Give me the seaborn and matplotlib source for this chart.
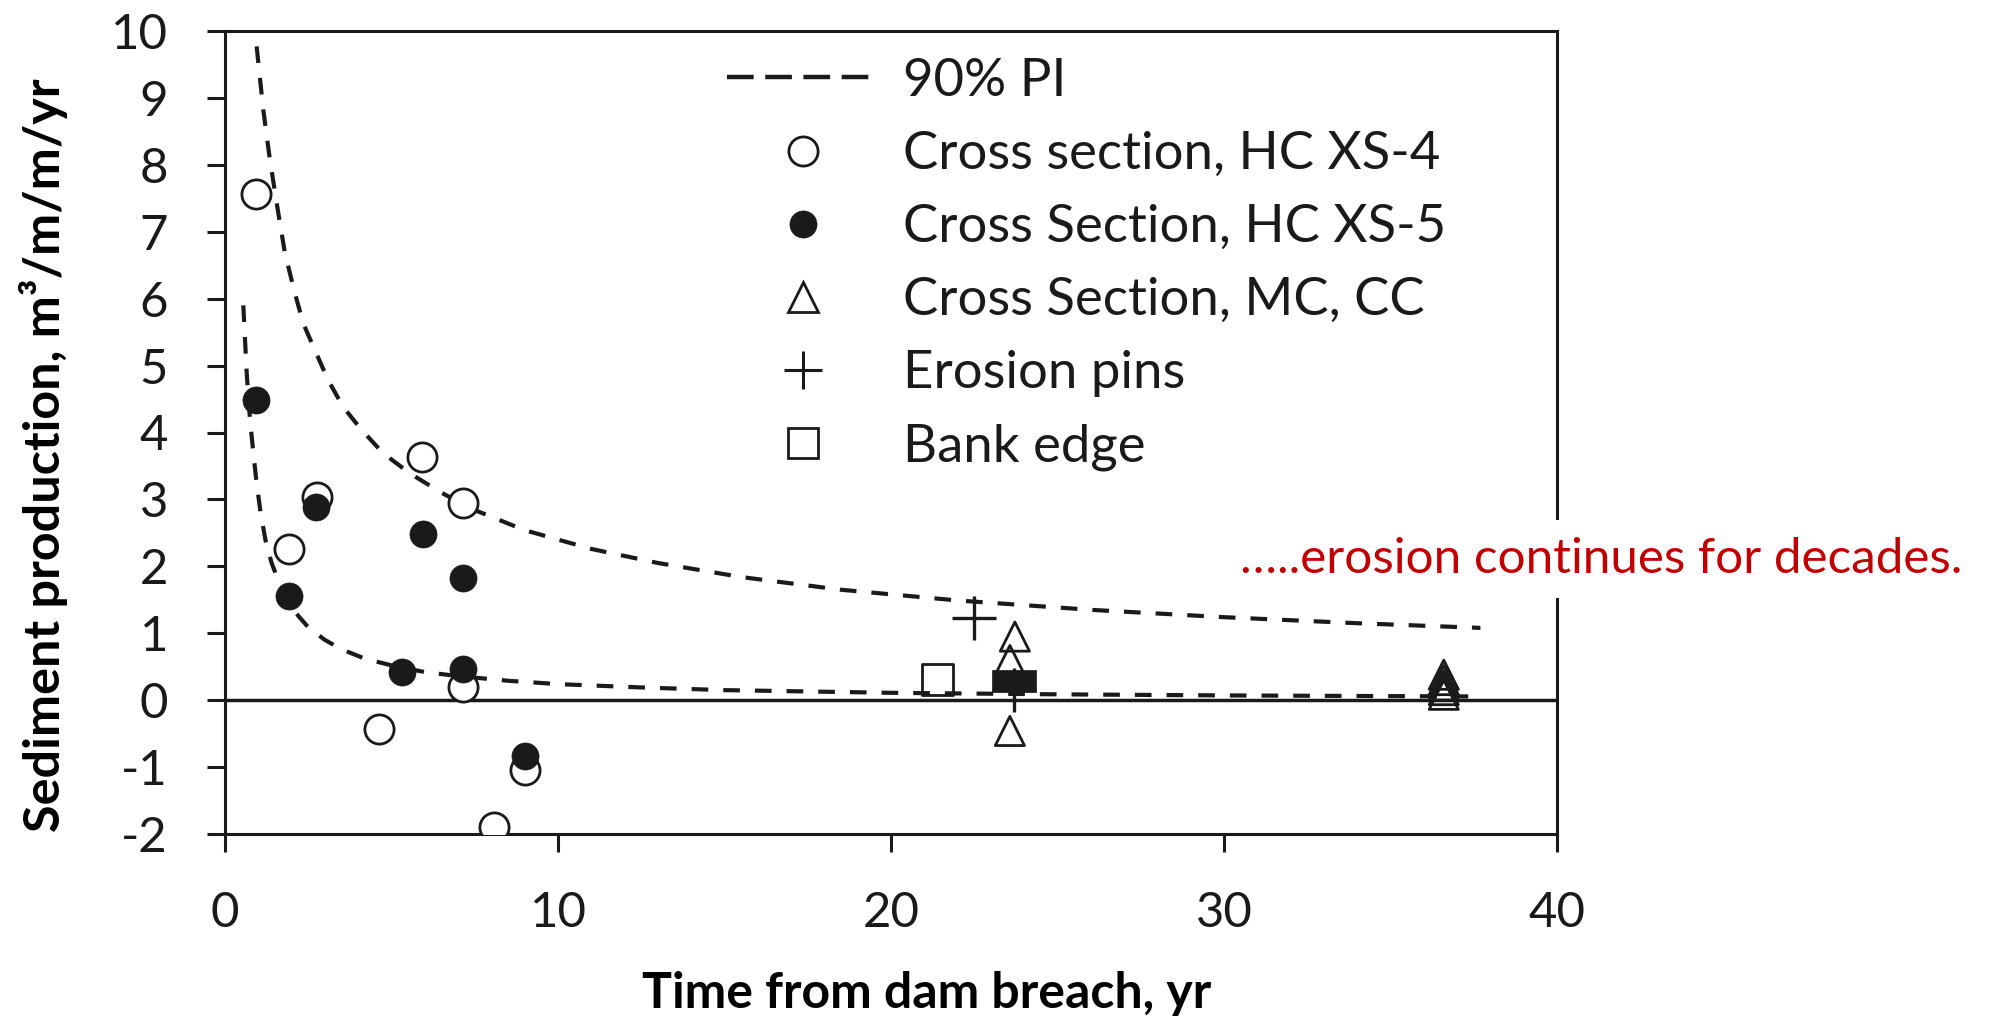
import matplotlib
matplotlib.use("Agg")
import matplotlib.pyplot as plt
from matplotlib.lines import Line2D
import seaborn as sns

# ---------------- data ----------------
pi_upper_x = [0.95, 1.15, 1.35, 1.6, 1.8, 2.1, 2.35, 2.7, 3.1, 3.55, 4.1, 4.75, 5.55,
              6.5, 7.5, 9.0, 11.0, 13.0, 15.5, 18.5, 22.0, 26.0, 30.0, 34.0, 37.7]
pi_upper_y = [9.77, 8.82, 8.07, 7.28, 6.68, 6.08, 5.63, 5.23, 4.78, 4.38, 4.04, 3.69, 3.39,
              3.10, 2.84, 2.54, 2.26, 2.05, 1.84, 1.65, 1.49, 1.35, 1.24, 1.15, 1.08]
pi_lower_x = [0.55, 0.65, 0.75, 0.85, 0.95, 1.07, 1.22, 1.4, 1.6, 1.9, 2.2, 2.5, 3.0,
              3.5, 4.2, 5.0, 6.0, 7.0, 8.5, 10.0, 12.5, 15.0, 20.0, 25.0, 30.0, 37.7]
pi_lower_y = [5.9, 4.9, 4.2, 3.7, 3.24, 2.8, 2.38, 2.05, 1.79, 1.48, 1.26, 1.09, 0.90,
              0.76, 0.62, 0.52, 0.42, 0.36, 0.29, 0.24, 0.19, 0.15, 0.11, 0.087, 0.071, 0.055]

hc4_x = [0.92, 1.92, 2.75, 5.92, 7.16, 7.16, 4.62, 9.01, 8.09]
hc4_y = [7.56, 2.26, 3.04, 3.64, 2.95, 0.20, -0.43, -1.04, -1.89]

hc5_x = [0.92, 2.73, 5.94, 1.93, 7.14, 5.31, 7.14, 9.01]
hc5_y = [4.49, 2.89, 2.49, 1.56, 1.82, 0.42, 0.47, -0.83]

mccc_x = [23.72, 23.57, 23.57, 36.6, 36.6, 36.6, 36.6, 36.6]
mccc_y = [0.95, 0.60, -0.46, 0.38, 0.30, 0.22, 0.15, 0.08]

pins_x = [22.5, 23.7]
pins_y = [1.23, 0.15]

bank_x = [21.4]
bank_y = [0.31]
bank_filled_x = [23.7]
bank_filled_y = [0.29]

x_ticks = [0, 10, 20, 30, 40]
y_ticks = [-2, -1, 0, 1, 2, 3, 4, 5, 6, 7, 8, 9, 10]

legend_labels = ["90% PI", "Cross section, HC XS-4", "Cross Section, HC XS-5",
                 "Cross Section, MC, CC", "Erosion pins", "Bank edge"]
x_label = "Time from dam breach, yr"
y_label = "Sediment production, m\u00b3/m/m/yr"
annotation = "\u2026..erosion continues for decades."

# ---------------- style ----------------
sns.set_style("ticks")
plt.rcParams["font.family"] = ["Lato", "DejaVu Sans"]
plt.rcParams["axes.unicode_minus"] = False

INK = "#1a1a1a"
W, H, DPI = 19.9, 10.18, 100
fig = plt.figure(figsize=(W, H), dpi=DPI)
renderer = fig.canvas.get_renderer()


def size_for(s, target_px, weight="normal"):
    t = fig.text(0, 0, s, fontsize=40, fontweight=weight)
    w = t.get_window_extent(renderer).width
    h = t.get_window_extent(renderer).height
    t.remove()
    f = 40 * target_px / w
    return f, h * f / 40


tick_fs, _ = size_for("10", 57)
xlab_fs, _ = size_for(x_label, 571, "bold")
ylab_fs, _ = size_for(y_label, 753, "bold")
leg_fs, leg_h = size_for(legend_labels[2], 542)
ann_fs, _ = size_for(annotation, 721)

# axes box: x 225..1557 px, y 31..834 px
L, R, T, B = 225, 1557, 31, 834
ax = fig.add_axes([L / 1990, 1 - B / 1018, (R - L) / 1990, (B - T) / 1018])

ax.axhline(0, color=INK, lw=2.5, zorder=1)

dash = (0, (4.0, 3.6))
sns.lineplot(x=pi_upper_x, y=pi_upper_y, ax=ax, color=INK, lw=3.0,
             linestyle=dash, estimator=None, sort=False, zorder=2)
sns.lineplot(x=pi_lower_x, y=pi_lower_y, ax=ax, color=INK, lw=3.0,
             linestyle=dash, estimator=None, sort=False, zorder=2)

rect_marker = [(-1, -0.5), (1, -0.5), (1, 0.5), (-1, 0.5), (-1, -0.5)]

sns.scatterplot(x=hc4_x, y=hc4_y, ax=ax, marker="o", s=21 ** 2, color="white",
                edgecolor=INK, linewidth=2.0, zorder=3)
sns.scatterplot(x=hc5_x, y=hc5_y, ax=ax, marker="o", s=19.5 ** 2, color=INK,
                edgecolor=INK, linewidth=0.5, zorder=4)
sns.scatterplot(x=mccc_x, y=mccc_y, ax=ax, marker="^", s=21 ** 2, color="none",
                edgecolor=INK, linewidth=2.0, zorder=3)
sns.scatterplot(x=pins_x, y=pins_y, ax=ax, marker="+", s=32 ** 2, color=INK,
                linewidth=2.4, zorder=3)
sns.scatterplot(x=bank_x, y=bank_y, ax=ax, marker="s", s=22 ** 2, color="none",
                edgecolor=INK, linewidth=2.0, zorder=3)
sns.scatterplot(x=bank_filled_x, y=bank_filled_y, ax=ax, marker=rect_marker,
                s=32 ** 2, color=INK, edgecolor=INK, linewidth=0.5, zorder=4)

ax.set_xlim(0, 40)
ax.set_ylim(-2, 10)
ax.set_xticks(x_ticks)
ax.set_yticks(y_ticks)
for sp in ax.spines.values():
    sp.set_visible(True)
    sp.set_color(INK)
    sp.set_linewidth(2.2)
ax.tick_params(axis="both", which="major", direction="out", length=13, width=2.2,
               pad=28, labelsize=tick_fs, colors=INK, labelcolor=INK)
ax.tick_params(top=False, right=False)

ax.set_xlabel(x_label, fontsize=xlab_fs, fontweight="bold", color="black")
ax.xaxis.label.set_va("center")
ax.xaxis.set_label_coords((927 - L) / (R - L), (B - 993) / (B - T))
ax.set_ylabel(y_label, fontsize=ylab_fs, fontweight="bold", color="black")
ax.yaxis.label.set_va("center")
ax.yaxis.set_label_coords((44 - L) / (R - L), (B - 455) / (B - T))

# legend
em_px = leg_fs * DPI / 72
handles = [
    Line2D([], [], color=INK, lw=3.2, linestyle=(0, (6.0, 2.6))),
    Line2D([], [], ls="none", marker="o", markersize=21, markerfacecolor="white",
           markeredgecolor=INK, markeredgewidth=2.0),
    Line2D([], [], ls="none", marker="o", markersize=19.5, markerfacecolor=INK,
           markeredgecolor=INK, markeredgewidth=0.5),
    Line2D([], [], ls="none", marker="^", markersize=21, markerfacecolor="none",
           markeredgecolor=INK, markeredgewidth=2.0),
    Line2D([], [], ls="none", marker="+", markersize=28, color=INK,
           markeredgewidth=2.2),
    Line2D([], [], ls="none", marker="s", markersize=22, markerfacecolor="none",
           markeredgecolor=INK, markeredgewidth=2.0),
]
row_px = 74.4
leg = ax.legend(handles, legend_labels, loc="upper left",
                bbox_to_anchor=(727 / 1990, 1 - (82 - leg_h / 2) / 1018),
                bbox_transform=fig.transFigure, frameon=False, fontsize=leg_fs,
                handlelength=152 / em_px, handletextpad=24 / em_px,
                labelspacing=(row_px - leg_h) / em_px, borderpad=0, borderaxespad=0)
for t in leg.get_texts():
    t.set_color(INK)

# annotation with white box covering the right spine
fig.text(1240 / 1990, 1 - 573 / 1018, annotation, ha="left", va="baseline",
         fontsize=ann_fs, color="#C00000", zorder=10,
         bbox=dict(facecolor="white", edgecolor="none", boxstyle="square,pad=0.35"))

fig.savefig("out.png", dpi=DPI)
